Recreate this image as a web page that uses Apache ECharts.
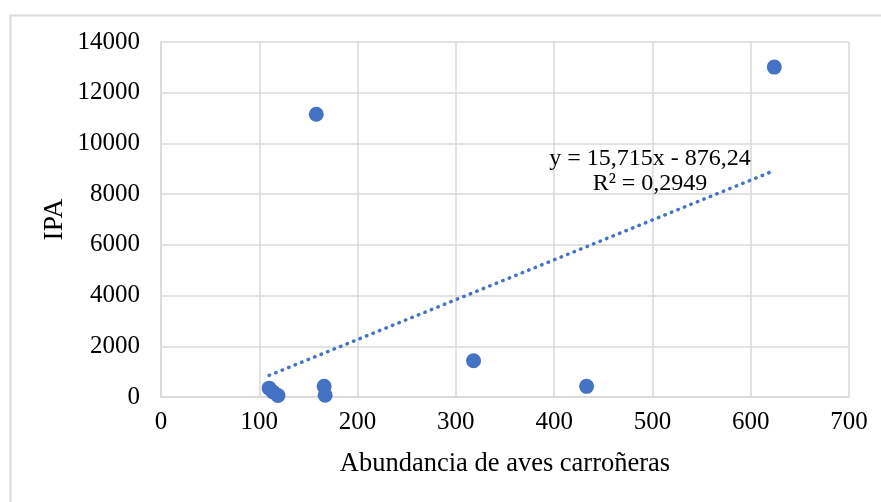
<!DOCTYPE html>
<html><head><meta charset="utf-8">
<script src="https://cdn.jsdelivr.net/npm/echarts@6/dist/echarts.min.js"></script>
<style>html,body{margin:0;padding:0;background:#fff}#c{width:881px;height:502px}</style>
</head><body><div id="c"></div>
<script>
const abundancia = [110, 114, 119, 158, 166, 167, 318, 433, 624];
const ipa = [350, 200, 60, 11150, 420, 70, 1430, 420, 13010];
const xTicks = [0, 100, 200, 300, 400, 500, 600, 700];
const yTicks = [0, 2000, 4000, 6000, 8000, 10000, 12000, 14000];
const trendSlope = 15.715;
const trendIntercept = -876.24;
const eqLines = ['y = 15,715x - 876,24', 'R² = 0,2949'];
const xTitle = 'Abundancia de aves carroñeras';
const yTitle = 'IPA';

const pts = abundancia.map((x, i) => [x, ipa[i]]);
const xmin = Math.min(...abundancia), xmax = Math.max(...abundancia);
const trend = [[xmin, trendSlope * xmin + trendIntercept], [xmax, trendSlope * xmax + trendIntercept]];
const font = '"Liberation Serif", "Times New Roman", serif';
const grid = '#d9d9d9';

const chart = echarts.init(document.getElementById('c'), null, {renderer: 'canvas'});
chart.setOption({
  animation: false,
  backgroundColor: '#fff',
  grid: {left: 161, right: 32, top: 42, bottom: 105, containLabel: false},
  xAxis: {
    type: 'value', min: xTicks[0], max: xTicks[xTicks.length - 1], interval: 100,
    name: xTitle, nameLocation: 'middle', nameGap: 54,
    nameTextStyle: {fontFamily: font, fontSize: 26.5, color: '#000'},
    axisLine: {show: true, lineStyle: {color: grid, width: 1.5}},
    axisTick: {show: false},
    axisLabel: {fontFamily: font, fontSize: 25, color: '#000', margin: 13, formatter: v => String(v)},
    splitLine: {show: true, lineStyle: {color: grid, width: 1.5}}
  },
  yAxis: {
    type: 'value', min: yTicks[0], max: yTicks[yTicks.length - 1], interval: 2000,
    name: yTitle, nameLocation: 'middle', nameGap: 92, nameRotate: 90, nameMoveOverlap: false,
    nameTextStyle: {fontFamily: font, fontSize: 27.5, color: '#000'},
    axisLine: {show: true, lineStyle: {color: grid, width: 1.5}},
    axisTick: {show: false},
    axisLabel: {fontFamily: font, fontSize: 25, color: '#000', margin: 21, formatter: v => String(v)},
    splitLine: {show: true, lineStyle: {color: grid, width: 1.5}}
  },
  series: [
    {
      type: 'line', data: trend, symbol: 'none', silent: true, z: 1,
      lineStyle: {color: '#4472C4', width: 3.5, type: [0.5, 6.5], cap: 'round'}
    },
    {
      type: 'scatter', data: pts, symbol: 'circle', symbolSize: 15, z: 3,
      itemStyle: {color: '#4472C4', opacity: 1}
    }
  ],
  graphic: [
    {type: 'rect', left: 8, top: 13, shape: {width: 900, height: 600}, silent: true, z: -10,
      style: {fill: 'none', stroke: grid, lineWidth: 2}},
    {type: 'text', x: 650, y: 159, silent: true, z: 10,
      style: {text: eqLines[0], font: '24px ' + font, fill: '#000', align: 'center', verticalAlign: 'middle'}},
    {type: 'text', x: 650, y: 184, silent: true, z: 10,
      style: {text: eqLines[1], font: '24px ' + font, fill: '#000', align: 'center', verticalAlign: 'middle'}}
  ]
});
</script></body></html>
